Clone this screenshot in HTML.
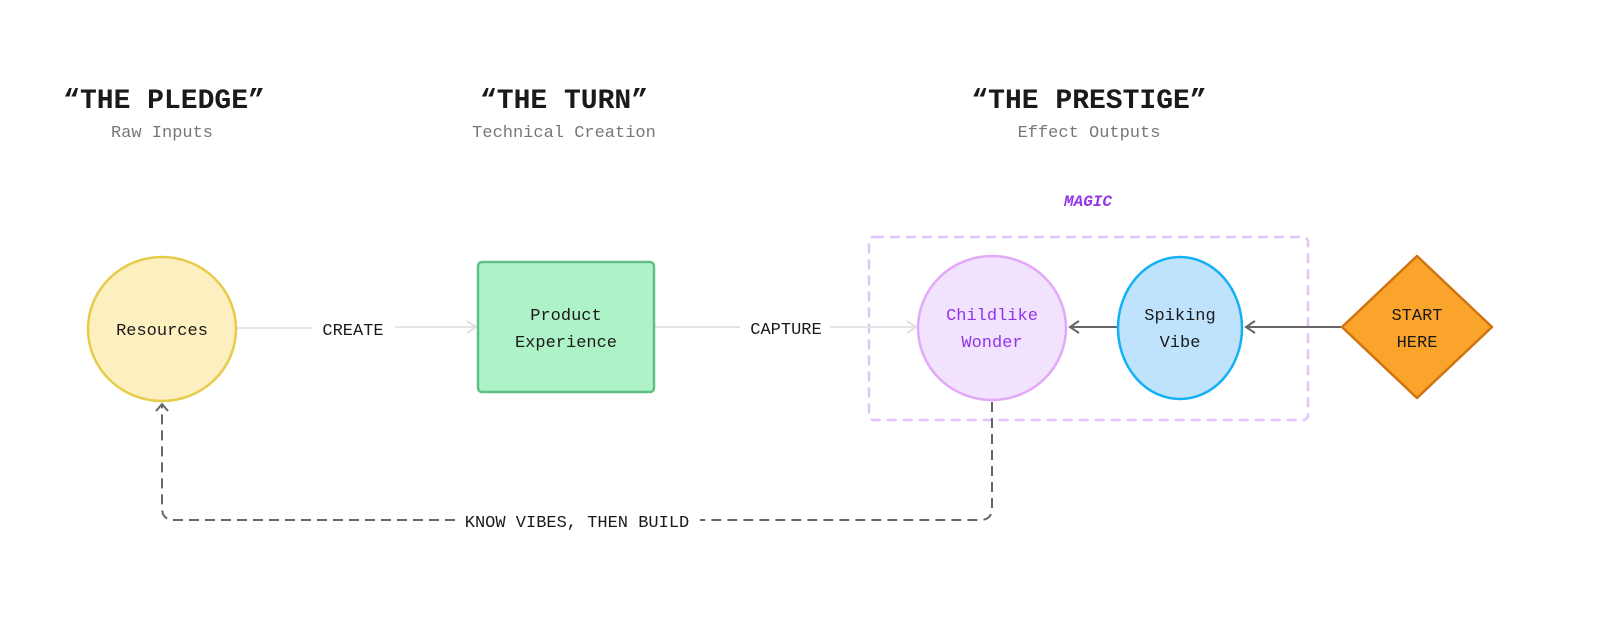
<!DOCTYPE html>
<html><head><meta charset="utf-8"><style>
html,body{margin:0;padding:0;background:#fff;}
svg{display:block;}
text{font-family:"Liberation Mono","DejaVu Sans Mono",monospace;}
</style></head><body>
<svg width="1600" height="637" viewBox="0 0 1600 637" xmlns="http://www.w3.org/2000/svg">
<rect width="1600" height="637" fill="#fff"/>
<g text-anchor="middle">
<text x="164" y="108" font-size="28" font-weight="bold" fill="#1a1a1a">“THE PLEDGE”</text>
<text x="162" y="137" font-size="17" fill="#777">Raw Inputs</text>
<text x="564" y="108" font-size="28" font-weight="bold" fill="#1a1a1a">“THE TURN”</text>
<text x="564" y="137" font-size="17" fill="#777">Technical Creation</text>
<text x="1089" y="108" font-size="28" font-weight="bold" fill="#1a1a1a">“THE PRESTIGE”</text>
<text x="1089" y="137" font-size="17" fill="#777">Effect Outputs</text>
<text x="1088" y="206" font-size="16" font-weight="bold" font-style="italic" fill="#9333ea">MAGIC</text>
</g>
<!-- magic box -->
<rect x="869" y="237" width="439" height="183" rx="5" fill="none" stroke="#e0c4fb" stroke-width="2.5" stroke-dasharray="10 6"/>
<!-- connectors -->
<line x1="237" y1="328" x2="312" y2="328" stroke="#e5e5e5" stroke-width="2"/>
<line x1="395" y1="327" x2="476" y2="327" stroke="#e5e5e5" stroke-width="2"/>
<polyline points="467,321 476,327 467,333" fill="none" stroke="#e0e0e0" stroke-width="2"/>
<text x="353" y="335" font-size="17" fill="#1a1a1a" text-anchor="middle">CREATE</text>
<line x1="655" y1="327" x2="740" y2="327" stroke="#e5e5e5" stroke-width="2"/>
<line x1="830" y1="327" x2="916" y2="327" stroke="#e5e5e5" stroke-width="2"/>
<polyline points="907,321 916,327 907,333" fill="none" stroke="#e0e0e0" stroke-width="2"/>
<text x="786" y="334" font-size="17" fill="#1a1a1a" text-anchor="middle">CAPTURE</text>
<line x1="1117" y1="327" x2="1070" y2="327" stroke="#666" stroke-width="2"/>
<polyline points="1079,321 1070,327 1079,333" fill="none" stroke="#666" stroke-width="2"/>
<line x1="1342" y1="327" x2="1246" y2="327" stroke="#666" stroke-width="2"/>
<polyline points="1255,321 1246,327 1255,333" fill="none" stroke="#666" stroke-width="2"/>
<!-- feedback -->
<path d="M992,402 V508 Q992,520 980,520 H700 M455,520 H174 Q162,520 162,508 V405" fill="none" stroke="#666" stroke-width="2" stroke-dasharray="10 6"/>
<polyline points="156,411 162,404 168,411" fill="none" stroke="#666" stroke-width="2"/>
<text x="577" y="527" font-size="17" fill="#1a1a1a" text-anchor="middle">KNOW VIBES, THEN BUILD</text>
<!-- nodes -->
<ellipse cx="162" cy="329" rx="74" ry="72" fill="#fdefbf" stroke="#e6cc4a" stroke-width="2.5"/>
<text x="162" y="335" font-size="17" fill="#1a1a1a" text-anchor="middle">Resources</text>
<rect x="478" y="262" width="176" height="130" rx="4" fill="#adf3c7" stroke="#5fbf85" stroke-width="2.5"/>
<text x="566" y="320" font-size="17" fill="#1a1a1a" text-anchor="middle">Product</text>
<text x="566" y="347" font-size="17" fill="#1a1a1a" text-anchor="middle">Experience</text>
<ellipse cx="992" cy="328" rx="74" ry="72" fill="#f1e3fd" stroke="#e2a9f9" stroke-width="2.5"/>
<text x="992" y="320" font-size="17" fill="#9333ea" text-anchor="middle">Childlike</text>
<text x="992" y="347" font-size="17" fill="#9333ea" text-anchor="middle">Wonder</text>
<ellipse cx="1180" cy="328" rx="62" ry="71" fill="#bfe3fd" stroke="#12b0f5" stroke-width="2.5"/>
<text x="1180" y="320" font-size="17" fill="#1a1a1a" text-anchor="middle">Spiking</text>
<text x="1180" y="347" font-size="17" fill="#1a1a1a" text-anchor="middle">Vibe</text>
<path d="M1417,256 L1492,327 L1417,398 L1342,327 Z" fill="#fba42b" stroke="#cf7410" stroke-width="2.5" stroke-linejoin="round"/>
<text x="1417" y="320" font-size="17" fill="#1a1a1a" text-anchor="middle">START</text>
<text x="1417" y="347" font-size="17" fill="#1a1a1a" text-anchor="middle">HERE</text>
</svg>
</body></html>
